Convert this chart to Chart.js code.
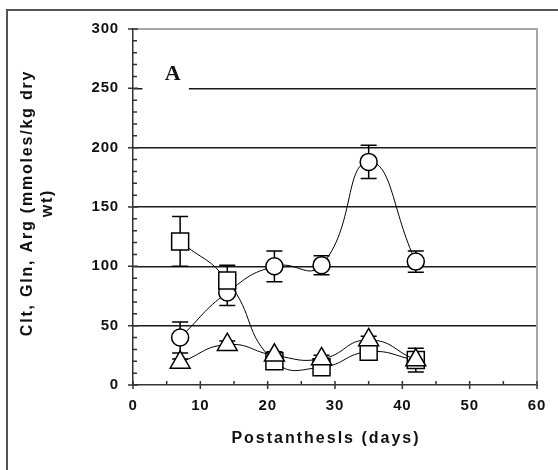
<!DOCTYPE html>
<html>
<head>
<meta charset="utf-8">
<script src="https://cdn.jsdelivr.net/npm/chart.js@4/dist/chart.umd.min.js"></script>
<style>
  html, body { margin: 0; padding: 0; background: #fff; }
  #wrap { width: 558px; height: 470px; }
</style>
</head>
<body>
<div id="wrap"><canvas id="grafico"></canvas></div>
<script>
// dias postantesis
const dias = [7, 14, 21, 28, 35, 42];

// circulos
const serieCirculo = [40, 78, 100, 101, 188, 104];
const errCirculo = [13, 11, 13, 8, 14, 9];
// cuadrados
const serieCuadro = [121, 88, 20, 15, 28, 21];
const errCuadro = [21, 13, 5, 4, 4, 10];
// triangulos
const serieTriang = [19, 34, 25, 22, 38, 21];
const errTriang = [3, 3, 3, 3, 3, 3];

const ticksY = [0, 50, 100, 150, 200, 250, 300];
const ticksX = [0, 10, 20, 30, 40, 50, 60];

const tituloX = 'Postanthesls (days)';
const tituloY = ['Clt, Gln, Arg (mmoles/kg dry', 'wt)'];

const puntos = (vals) => dias.map((d, i) => ({ x: d, y: vals[i] }));

// espaciado de letras para las etiquetas de los ejes
const espaciado = {
    id: 'espaciado',
    beforeDraw(chart) { chart.ctx.letterSpacing = '0.8px'; }
};

// barras de error, debajo de los marcadores
const barrasError = {
    id: 'barrasError',
    beforeDatasetsDraw(chart) {
        const ctx = chart.ctx;
        const sx = chart.scales.x, sy = chart.scales.y;
        const grupos = [[serieCirculo, errCirculo], [serieCuadro, errCuadro], [serieTriang, errTriang]];
        ctx.save();
        // tapar la linea de 250 detras de la "A"
        ctx.fillStyle = '#fff';
        ctx.fillRect(sx.getPixelForValue(1.4), sy.getPixelForValue(258), sx.getPixelForValue(8.3) - sx.getPixelForValue(1.4), 16);
        ctx.strokeStyle = '#000';
        ctx.lineWidth = 1.5;
        grupos.forEach(([vals, errs]) => {
            dias.forEach((d, i) => {
                const x = sx.getPixelForValue(d);
                const y1 = sy.getPixelForValue(vals[i] + errs[i]);
                const y2 = sy.getPixelForValue(vals[i] - errs[i]);
                ctx.beginPath();
                ctx.moveTo(x, y1); ctx.lineTo(x, y2);
                ctx.moveTo(x - 8, y1); ctx.lineTo(x + 8, y1);
                ctx.moveTo(x - 8, y2); ctx.lineTo(x + 8, y2);
                ctx.stroke();
            });
        });
        ctx.restore();
    }
};

// marcas menores y mayores, borde del grafico, marco exterior, titulos y la letra A
const adornos = {
    id: 'adornos',
    afterDraw(chart) {
        const ctx = chart.ctx;
        const sx = chart.scales.x, sy = chart.scales.y;
        const a = chart.chartArea;
        ctx.save();
        // marco exterior
        ctx.strokeStyle = '#555';
        ctx.lineWidth = 2;
        ctx.beginPath();
        ctx.moveTo(7, 470); ctx.lineTo(7, 10); ctx.lineTo(558, 10);
        ctx.stroke();
        // borde gris del area
        ctx.strokeStyle = '#a6a6a6';
        ctx.lineWidth = 2;
        ctx.beginPath();
        ctx.moveTo(a.left, a.top); ctx.lineTo(a.right, a.top); ctx.lineTo(a.right, a.bottom);
        ctx.stroke();
        // ticks
        ctx.strokeStyle = '#333';
        ctx.lineWidth = 1.5;
        ctx.beginPath();
        for (let v = 0; v <= 300; v += 10) {
            const y = sy.getPixelForValue(v);
            if (v % 50 === 0) { ctx.moveTo(a.left - 5, y); ctx.lineTo(a.left + 5, y); }
            else { ctx.moveTo(a.left, y); ctx.lineTo(a.left + 4, y); }
        }
        for (let v = 0; v <= 60; v += 5) {
            const x = sx.getPixelForValue(v);
            if (v % 10 === 0) { ctx.moveTo(x, a.bottom - 4); ctx.lineTo(x, a.bottom + 4); }
            else { ctx.moveTo(x, a.bottom); ctx.lineTo(x, a.bottom - 4); }
        }
        ctx.stroke();

        // titulos de los ejes
        ctx.fillStyle = '#111';
        ctx.textAlign = 'center';
        ctx.textBaseline = 'middle';
        ctx.font = 'bold 16px "Liberation Sans"';
        ctx.letterSpacing = '2px';
        ctx.fillText(tituloX, 326, 439);

        ctx.font = 'bold 16px "Liberation Sans"';
        ctx.letterSpacing = '1.8px';
        const cy = (a.top + a.bottom) / 2 - 4;
        [28, 48].forEach((cx, i) => {
            ctx.save();
            ctx.translate(cx, cy);
            ctx.rotate(-Math.PI / 2);
            ctx.fillText(tituloY[i], 0, 0);
            ctx.restore();
        });

        // letra del panel
        ctx.letterSpacing = '0px';
        ctx.font = 'bold 22px "Liberation Serif"';
        ctx.fillText('A', sx.getPixelForValue(5.9), sy.getPixelForValue(262));
        ctx.restore();
    }
};

const estilo = (vals, forma, radio) => ({
    data: puntos(vals),
    showLine: true,
    borderColor: '#000',
    borderWidth: 1,
    tension: 0.5,
    pointStyle: forma,
    pointRadius: radio,
    pointBorderWidth: 1.5,
    pointBackgroundColor: '#fff',
    pointBorderColor: '#000',
    fill: false
});

new Chart(document.getElementById('grafico'), {
    type: 'scatter',
    data: {
        datasets: [
            estilo(serieTriang, 'triangle', 11.5),
            estilo(serieCuadro, 'rect', 12),
            estilo(serieCirculo, 'circle', 8.5)
        ]
    },
    options: {
        responsive: true,
        maintainAspectRatio: false,
        animation: false,
        events: [],
        layout: { padding: { top: 29, right: 21, left: 0, bottom: 0 } },
        plugins: { legend: { display: false }, tooltip: { enabled: false } },
        scales: {
            x: {
                type: 'linear',
                min: 0, max: 60,
                afterBuildTicks: (s) => { s.ticks = ticksX.map(v => ({ value: v })); },
                afterFit: (s) => { s.height = 85; },
                grid: { drawOnChartArea: false, drawTicks: false },
                border: { display: true, color: '#333', width: 1.5 },
                ticks: { padding: 12, color: '#111', font: { family: '"Liberation Sans"', size: 15, weight: 'bold' } }
            },
            y: {
                min: 0, max: 300,
                afterBuildTicks: (s) => { s.ticks = ticksY.map(v => ({ value: v })); },
                afterFit: (s) => { s.width = 133; },
                grid: {
                    drawTicks: false,
                    lineWidth: 1.5,
                    color: (c) => (c.tick && c.tick.value > 0 && c.tick.value < 300) ? '#1a1a1a' : 'rgba(0,0,0,0)'
                },
                border: { display: true, color: '#333', width: 1.5 },
                ticks: { padding: 14, color: '#111', font: { family: '"Liberation Sans"', size: 15, weight: 'bold' } }
            }
        }
    },
    plugins: [espaciado, barrasError, adornos]
});
</script>
</body>
</html>
